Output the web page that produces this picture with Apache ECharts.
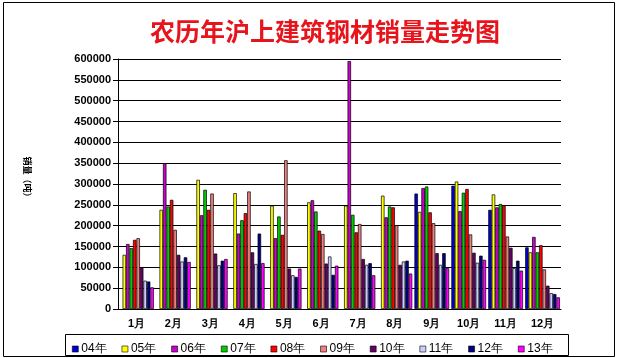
<!DOCTYPE html>
<html><head><meta charset="utf-8">
<script src="https://cdn.jsdelivr.net/npm/echarts@6/dist/echarts.min.js"></script>
<style>html,body{margin:0;padding:0;background:#fff}#c{width:620px;height:358px}</style>
</head><body><div id="c"></div>
<script>
var categories = ['1月','2月','3月','4月','5月','6月','7月','8月','9月','10月','11月','12月'];
var yTicks = [0,50000,100000,150000,200000,250000,300000,350000,400000,450000,500000,550000,600000];
var seriesNames = ['04年','05年','06年','07年','08年','09年','10年','11年','12年','13年'];
var s04 = [null,null,null,null,null,null,null,null,277000,296000,238000,148000];
var s05 = [130000,238000,310000,278000,248000,256000,248000,272000,233000,306000,275000,136000];
var s06 = [156000,350000,225000,181000,170000,261000,595000,220000,290000,235000,244000,173000];
var s07 = [146000,246000,286000,213000,222000,234000,226000,246000,294000,279000,252000,136000];
var s08 = [166000,262000,238000,230000,178000,188000,184000,244000,232000,288000,249000,153000];
var s09 = [170000,190000,277000,282000,357000,180000,204000,201000,206000,179000,174000,95000];
var s10 = [100000,130000,133000,136000,97000,109000,120000,106000,134000,135000,147000,56000];
var s11 = [68000,114000,105000,108000,81000,126000,106000,114000,106000,111000,98000,38000];
var s12 = [66000,124000,116000,181000,77000,82000,110000,116000,134000,128000,116000,36000];
var s13 = [52000,113000,120000,110000,97000,104000,81000,85000,98000,118000,92000,28000];
var allData = [s04,s05,s06,s07,s08,s09,s10,s11,s12,s13];
var colors = ['#0000D0','#FFFF00','#CC00CC','#00CC00','#FF0000','#F08080','#660066','#CCCCFF','#000080','#FF00FF'];

var chart = echarts.init(document.getElementById('c'), null, {renderer:'canvas'});
var series = allData.map(function(d,i){
  return {
    name: seriesNames[i], type:'bar', data: d,
    barGap:'0%', barCategoryGap:'6%',
    itemStyle:{color:colors[i], borderColor:'#000', borderWidth:0.7},
    emphasis:{disabled:true}, animation:false
  };
});
chart.setOption({
  animation:false,
  color: colors,
  grid:{left:118, right:59, top:59, bottom:49},
  legend:{left:67, top:338, itemWidth:6, itemHeight:6, itemGap:15, icon:'rect',
    itemStyle:{borderColor:'#000', borderWidth:0.6},
    textStyle:{fontSize:12, color:'#000', fontFamily:'Liberation Sans', padding:[0,0,0,-2]},
    data: seriesNames},
  xAxis:{type:'category', data:categories,
    axisLine:{show:true, lineStyle:{color:'#000', width:1}},
    axisTick:{show:false},
    axisLabel:{fontSize:11, fontWeight:'bold', color:'#000', margin:9, fontFamily:'Liberation Sans'}},
  yAxis:{type:'value', min:0, max:600000, interval:50000,
    axisLine:{show:true, lineStyle:{color:'#000', width:1}},
    axisTick:{show:true, length:5, lineStyle:{color:'#000'}},
    splitLine:{show:true, lineStyle:{color:'#000', width:1}},
    axisLabel:{fontSize:11, fontWeight:'bold', color:'#000', margin:7, fontFamily:'Liberation Sans',
      formatter:function(v){return String(v);}}},
  graphic:[
    {type:'rect', shape:{x:3.5, y:2.5, width:611, height:354}, style:{fill:'none', stroke:'#000', lineWidth:1}, silent:true, z:-1},
    {type:'rect', shape:{x:65.5, y:334.5, width:503, height:21}, style:{fill:'none', stroke:'#000', lineWidth:1}, silent:true},
    {type:'text', x:325, y:31,
     style:{text:'农历年沪上建筑钢材销量走势图', fill:'#E8141C', font:'bold 25px "Noto Sans CJK SC"', textAlign:'center', textVerticalAlign:'middle'}},
    {type:'text', x:27, y:179, rotation:-Math.PI/2,
     style:{text:'销量（吨）', fill:'#000', font:'bold 9px "Noto Sans CJK SC"', textAlign:'center', textVerticalAlign:'middle'}}
  ],
  series: series
});
</script></body></html>
